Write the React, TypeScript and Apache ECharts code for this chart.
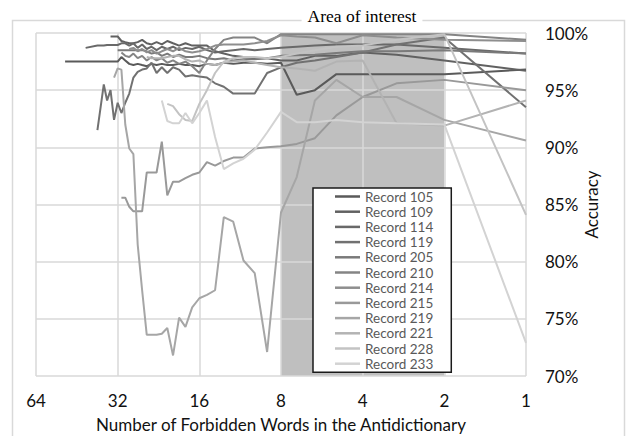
import React, { useEffect, useRef } from "react";
import * as echarts from "echarts";

// Number of forbidden words (x, log2 scale, reversed)
const wordCounts = [50, 46, 42, 38, 36, 35, 34, 33, 32, 31, 30, 29, 28, 27, 26, 25, 24, 23, 22, 21, 20, 19, 18, 17, 16, 15, 14, 13, 12, 11, 10, 9, 8, 7, 6, 5, 4, 3, 2, 1];
const xTicks = [64, 32, 16, 8, 4, 2, 1];
const yTicks = [70, 75, 80, 85, 90, 95, 100];
const areaOfInterest = [8, 2];

const recordNames = ["Record 105", "Record 109", "Record 114", "Record 119", "Record 205", "Record 210", "Record 214", "Record 215", "Record 219", "Record 221", "Record 228", "Record 233"];
// first word count of each record's curve
const recordStarts = [50, 34, 42, 38, 32, 31, 29, 31, 33, 25, 21, 22];

// accuracy (%) for each record, from its first word count down to 1
const r105 = [97.5, 97.5, 97.5, 97.5, 97.5, 97.5, 97.5, 97.5, 97.5, 97.9, 97.6, 97.3, 97.2, 97.3, 97.2, 97.1, 97.3, 97.2, 97.3, 97.2, 97.2, 97.3, 97.2, 97.2, 97.1, 97.3, 97.2, 97.4, 97.3, 97.4, 97.4, 97.3, 97.4, 94.6, 95.0, 96.4, 96.4, 96.4, 96.4, 96.8];
const r109 = [99.7, 99.7, 99.7, 99.3, 99.2, 99.1, 99.1, 99.2, 99.4, 99.1, 99.0, 99.2, 99.0, 99.3, 99.1, 98.9, 99.1, 98.9, 98.9, 98.9, 98.4, 98.2, 98.0, 97.9, 97.8, 97.8, 97.6, 97.6, 98.0, 98.0, 98.3, 98.1, 97.6, 96.7];
const r114 = [98.7, 98.9, 98.9, 98.95, 98.95, 98.95, 98.95, 99.1, 99.1, 98.9, 99.1, 98.7, 99.0, 98.6, 98.8, 98.5, 98.8, 98.6, 98.8, 98.5, 98.7, 98.6, 98.8, 98.5, 98.3, 98.4, 98.5, 98.6, 98.5, 98.6, 98.7, 98.8, 98.9, 99.0, 99.0, 99.0, 98.7, 98.2];
const r119 = [91.5, 95.5, 94.1, 95.0, 92.4, 93.9, 93.0, 93.9, 94.7, 96.1, 96.6, 96.8, 96.9, 97.4, 96.5, 97.0, 96.5, 97.0, 96.8, 96.2, 96.3, 96.2, 96.1, 95.6, 95.3, 94.7, 94.7, 94.7, 96.5, 97.0, 97.4, 97.6, 97.9, 98.3, 99.0, 99.6, 93.5];
const r205 = [98.5, 98.5, 98.5, 98.5, 98.5, 98.5, 98.5, 98.4, 98.2, 98.3, 98.0, 98.2, 97.9, 98.1, 97.9, 97.9, 98.0, 97.8, 97.7, 97.8, 97.6, 97.7, 97.7, 97.8, 98.0, 98.05, 98.1, 98.25, 98.4, 98.4, 98.5, 98.2];
const r210 = [98.3, 98.0, 97.9, 98.2, 97.8, 98.0, 97.6, 97.9, 97.6, 97.8, 97.4, 97.6, 97.3, 97.5, 97.1, 96.5, 97.6, 98.6, 99.4, 99.6, 99.6, 99.6, 99.1, 99.9, 99.9, 99.9, 99.9, 99.9, 99.9, 99.9, 99.4];
const r214 = [98.6, 98.7, 98.4, 98.6, 98.3, 98.5, 98.2, 98.4, 98.6, 98.4, 98.7, 98.4, 98.3, 98.4, 98.6, 98.9, 99.0, 99.0, 99.0, 99.1, 99.3, 99.8, 99.7, 99.6, 99.1, 99.8, 99.6, 99.4, 99.3];
const r215 = [85.6, 85.6, 84.8, 84.4, 84.4, 84.4, 87.8, 87.8, 87.8, 90.5, 85.8, 87.0, 87.0, 87.3, 87.6, 87.8, 88.7, 88.4, 88.8, 89.1, 89.1, 89.9, 90.0, 90.1, 90.3, 90.8, 92.8, 94.4, 95.6, 95.9, 95.0];
const r219 = [96.1, 96.9, 96.8, 92.0, 89.9, 89.4, 81.5, 77.5, 73.6, 73.6, 73.6, 73.7, 74.2, 71.8, 75.1, 74.3, 76.0, 76.8, 77.1, 77.5, 83.9, 83.5, 80.1, 79.0, 72.1, 84.3, 87.4, 94.1, 95.9, 94.4, 94.4, 92.4, 90.6];
const r221 = [97.9, 97.8, 97.8, 97.8, 97.9, 98.0, 98.0, 97.7, 97.5, 97.6, 97.3, 97.2, 97.4, 97.5, 97.6, 97.4, 97.2, 97.0, 96.9, 96.7, 97.5, 97.6, 92.1, 91.9, 94.1];
const r228 = [93.8, 93.6, 92.9, 92.4, 92.3, 93.8, 95.0, 96.5, 97.5, 97.8, 97.9, 97.9, 97.8, 97.9, 98.2, 98.5, 98.8, 98.9, 99.4, 99.9, 84.1];
const r233 = [94.1, 92.3, 92.1, 92.1, 93.0, 92.1, 93.0, 94.1, 90.9, 88.1, 88.6, 89.0, 89.8, 91.3, 93.1, 92.2, 92.2, 92.4, 92.2, 92.1, 92.0, 72.9];

const recordValues = [r105, r109, r114, r119, r205, r210, r214, r215, r219, r221, r228, r233];
const recordColors = ["#5a5a5a", "#616161", "#696969", "#717171", "#7a7a7a", "#848484", "#8e8e8e", "#999999", "#a6a6a6", "#b3b3b3", "#c3c3c3", "#d3d3d3"];

const FONT = 'Lato, "Open Sans", sans-serif';

function buildOption() {
  const series: any[] = recordNames.map((name, k) => {
    const startIdx = wordCounts.indexOf(recordStarts[k]);
    const data = recordValues[k].map((v, i) => [wordCounts[startIdx + i], v]);
    const s: any = {
      name,
      type: "line",
      data,
      symbol: "none",
      showSymbol: false,
      color: recordColors[k],
      lineStyle: { width: 2, color: recordColors[k] },
      z: 2,
    };
    if (k === 0) {
      s.markArea = {
        silent: true,
        z: 1,
        itemStyle: { color: "#bfbfbf", opacity: 1 },
        data: [[{ xAxis: areaOfInterest[0] }, { xAxis: areaOfInterest[1] }]],
      };
    }
    return s;
  });

  return {
    animation: false,
    backgroundColor: "#ffffff",
    grid: { left: 36, right: 102, top: 33, bottom: 60, outerBoundsMode: "none" },
    xAxis: {
      type: "log",
      logBase: 2,
      min: xTicks[xTicks.length - 1],
      max: xTicks[0],
      splitNumber: 6,
      inverse: true,
      z: 1.5,
      axisLine: { show: false },
      axisTick: { show: false },
      splitLine: { show: true, lineStyle: { color: "#d9d9d9", width: 1.5 } },
      axisLabel: {
        color: "#111",
        fontSize: 17,
        fontFamily: FONT,
        margin: 16,
        formatter: (v: number) => String(Math.round(v)),
      },
      name: "Number of Forbidden Words in the Antidictionary",
      nameLocation: "middle",
      nameGap: 40,
      nameMoveOverlap: false,
      nameTextStyle: { color: "#111", fontSize: 17, fontFamily: FONT },
    },
    yAxis: {
      type: "value",
      position: "right",
      min: yTicks[0],
      max: yTicks[yTicks.length - 1],
      interval: 5,
      z: 1.5,
      axisLine: { show: false },
      axisTick: { show: false },
      splitLine: { show: true, lineStyle: { color: "#d9d9d9", width: 1.5 } },
      axisLabel: { color: "#111", fontSize: 17, fontFamily: FONT, margin: 19, formatter: "{value}%" },
      name: "Accuracy",
      nameLocation: "middle",
      nameRotate: 90,
      nameGap: 57,
      nameMoveOverlap: false,
      nameTextStyle: { color: "#111", fontSize: 17, fontFamily: FONT },
    },
    legend: {
      orient: "vertical",
      left: 313,
      top: 188,
      data: recordNames,
      icon: "rect",
      backgroundColor: "#ffffff",
      borderColor: "#1a1a1a",
      borderWidth: 1.5,
      borderRadius: 0,
      padding: [1, 18, 1, 22],
      itemWidth: 25,
      itemHeight: 2.5,
      itemGap: 0.2,
      textStyle: { color: "#595959", fontSize: 13.5, fontFamily: FONT, lineHeight: 15 },
      z: 5,
    },
    graphic: [
      {
        type: "rect",
        silent: true,
        z: -10,
        shape: { x: 12.5, y: 20.5, width: 612, height: 430 },
        style: { fill: "none", stroke: "#d9d9d9", lineWidth: 1.5 },
      },
      {
        type: "text",
        silent: true,
        z: 10,
        x: 362,
        y: 16,
        style: {
          text: "Area of interest",
          fontSize: 17.5,
          fontFamily: '"Liberation Serif", "DejaVu Serif", serif',
          fill: "#000",
          align: "center",
          verticalAlign: "middle",
          backgroundColor: "#ffffff",
          padding: [2, 6],
        },
      },
    ],
    series,
  };
}

export default function App() {
  const ref = useRef<HTMLDivElement>(null);
  useEffect(() => {
    if (!ref.current) return;
    const chart = echarts.init(ref.current, null, { renderer: "svg" });
    chart.setOption(buildOption() as any);
    return () => chart.dispose();
  }, []);
  return (
    <div
      ref={ref}
      style={{ position: "fixed", left: 0, top: 0, width: 628, height: 436, background: "#fff" }}
    />
  );
}
